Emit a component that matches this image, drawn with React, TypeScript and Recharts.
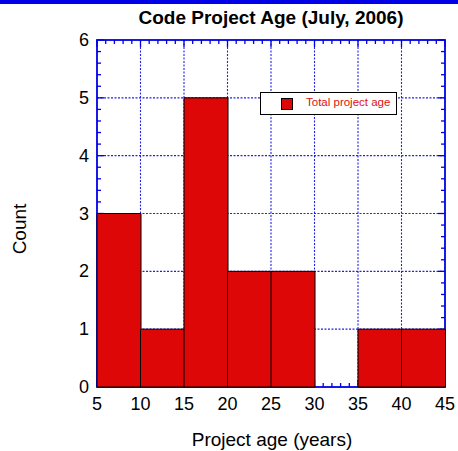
import React from "react";
import { BarChart, Bar, XAxis, YAxis, CartesianGrid } from "recharts";

const BIN_LABELS = ["5-10", "10-15", "15-20", "20-25", "25-30", "30-35", "35-40", "40-45"];
const COUNTS = [3, 1, 5, 2, 2, 0, 1, 1];
const X_TICKS = [5, 10, 15, 20, 25, 30, 35, 40, 45];
const Y_TICKS = [0, 1, 2, 3, 4, 5, 6];

const W = 458;
const H = 451;
const MARGIN = { top: 40, right: 13, bottom: 64, left: 97 };
const PLOT_W = W - MARGIN.left - MARGIN.right;
const PLOT_H = H - MARGIN.top - MARGIN.bottom;

const BLUE = "#0000e6";
const RED = "#dd0707";
const FONT = "'Liberation Sans', Arial, Helvetica, sans-serif";

const data = BIN_LABELS.map((bin, i) => ({ bin, count: COUNTS[i] }));

const xPx = (v: number) => MARGIN.left + ((v - 5) / 40) * PLOT_W;
const yPx = (v: number) => MARGIN.top + PLOT_H - (v / 6) * PLOT_H;

// frame, inward ticks (major + minor) and labels, drawn on top of the bars
function Frame() {
  const left = MARGIN.left;
  const right = MARGIN.left + PLOT_W;
  const top = MARGIN.top;
  const bottom = MARGIN.top + PLOT_H;
  const lines: React.ReactNode[] = [];
  for (let v = 5; v <= 45; v += 1) {
    const major = v % 5 === 0;
    const len = major ? 7 : 4;
    const x = xPx(v);
    lines.push(<line key={`xb${v}`} x1={x} x2={x} y1={bottom} y2={bottom - len} />);
    lines.push(<line key={`xt${v}`} x1={x} x2={x} y1={top} y2={top + len} />);
  }
  for (let k = 0; k <= 30; k += 1) {
    const major = k % 5 === 0;
    const len = major ? 7 : 4;
    const y = yPx(k / 5);
    lines.push(<line key={`yl${k}`} x1={left} x2={left + len} y1={y} y2={y} />);
    lines.push(<line key={`yr${k}`} x1={right} x2={right - len} y1={y} y2={y} />);
  }
  return (
    <g>
      <g stroke={BLUE} strokeWidth={1.3}>{lines}</g>
      <rect x={left} y={top} width={PLOT_W} height={PLOT_H} fill="none" stroke={BLUE} strokeWidth={1.8} />
      {X_TICKS.map((t) => (
        <text key={`xl${t}`} x={xPx(t)} y={410} textAnchor="middle" fontSize={18} fontFamily={FONT} fill="#000">
          {t}
        </text>
      ))}
      {Y_TICKS.map((t) => (
        <text key={`yl${t}`} x={89} y={yPx(t) + 6} textAnchor="end" fontSize={18} fontFamily={FONT} fill="#000">
          {t}
        </text>
      ))}
    </g>
  );
}

function LegendBox() {
  return (
    <div
      style={{
        position: "absolute",
        left: 260,
        top: 92,
        width: 137,
        height: 23,
        border: "1px solid #000",
        background: "#fff",
        boxSizing: "border-box",
        fontFamily: FONT,
      }}
    >
      <div
        style={{
          position: "absolute",
          left: 20,
          top: 5,
          width: 10,
          height: 10,
          background: RED,
          border: "1px solid #000",
        }}
      />
      <span style={{ position: "absolute", left: 45, top: 3, fontSize: 11.5, color: "#e01010", whiteSpace: "nowrap" }}>
        Total project age
      </span>
    </div>
  );
}

export default function App() {
  return (
    <div style={{ position: "absolute", left: 0, top: 0, width: W, height: H, background: "#fff" }}>
      <div style={{ position: "absolute", left: 0, top: 0, width: W, height: 4, background: BLUE }} />
      <BarChart width={W} height={H} data={data} margin={MARGIN} barCategoryGap={0}>
        <CartesianGrid
          stroke="#2020e8"
          strokeDasharray="2 1.5"
          strokeWidth={1.1}
          verticalPoints={X_TICKS.slice(1, -1).map(xPx)}
          horizontalPoints={Y_TICKS.slice(1, -1).map(yPx)}
        />
        <XAxis dataKey="bin" xAxisId="bins" hide padding={{ left: 0, right: 0 }} />
        <YAxis domain={[0, 6]} ticks={Y_TICKS} hide />
        <Bar
          dataKey="count"
          xAxisId="bins"
          fill={RED}
          stroke="#000"
          strokeWidth={1}
          isAnimationActive={false}
          name="Total project age"
        />
        <text x={271} y={24} textAnchor="middle" fontSize={19} fontWeight="bold" fontFamily={FONT} fill="#000">
          Code Project Age (July, 2006)
        </text>
        <text x={272} y={446} textAnchor="middle" fontSize={19} fontFamily={FONT} fill="#000">
          Project age (years)
        </text>
        <text
          x={26}
          y={229}
          textAnchor="middle"
          fontSize={19}
          fontFamily={FONT}
          fill="#000"
          transform="rotate(-90 26 229)"
        >
          Count
        </text>
        <Frame />
      </BarChart>
      <LegendBox />
    </div>
  );
}
